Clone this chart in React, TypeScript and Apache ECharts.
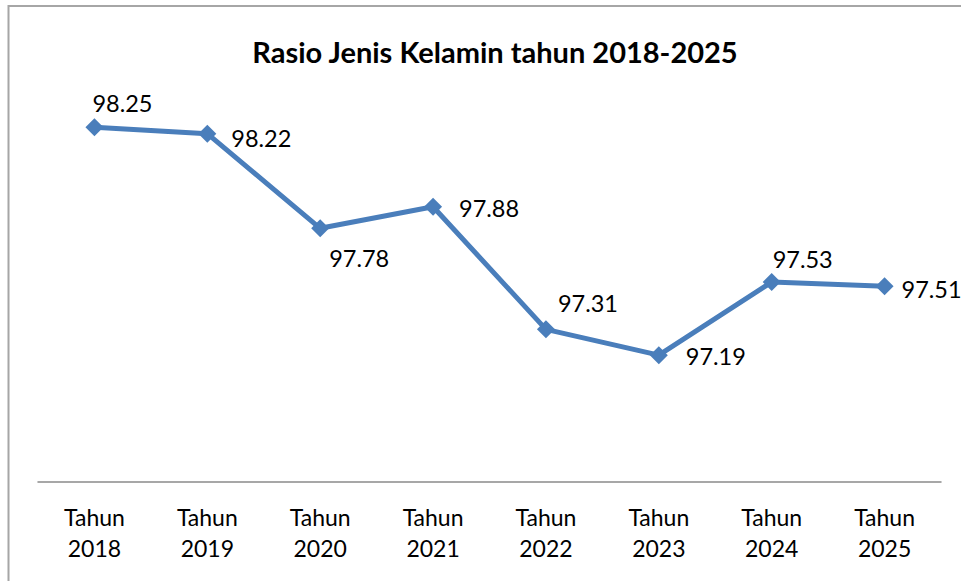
import React, { useEffect, useRef } from "react";
import * as echarts from "echarts";

const categories = [
  "Tahun\n2018",
  "Tahun\n2019",
  "Tahun\n2020",
  "Tahun\n2021",
  "Tahun\n2022",
  "Tahun\n2023",
  "Tahun\n2024",
  "Tahun\n2025",
];
const ratioValues = [98.25, 98.22, 97.78, 97.88, 97.31, 97.19, 97.53, 97.51];
const titleText = "Rasio Jenis Kelamin tahun 2018-2025";

// label placement (style only): offset of label centre from marker centre
const labelOffsets: [number, number][] = [
  [28, -24],
  [54, 4],
  [39, 30],
  [56, 1],
  [42, -26],
  [57, 1],
  [31, -23],
  [47, 3],
];

export default function App() {
  const ref = useRef<HTMLDivElement>(null);
  useEffect(() => {
    if (!ref.current) return;
    const chart = echarts.init(ref.current, undefined, { renderer: "svg" });
    chart.setOption({
      animation: false,
      backgroundColor: "#ffffff",
      title: {
        text: titleText,
        left: 490,
        top: 32,
        textAlign: "center",
        textStyle: {
          fontFamily: "Lato",
          fontWeight: "bold",
          fontSize: 29,
          color: "#000000",
        },
      },
      graphic: [
        {
          type: "rect",
          shape: { x: 8.5, y: 6, width: 1200, height: 1200 },
          style: { fill: "none", stroke: "#a6a6a6", lineWidth: 2 },
          silent: true,
          z: -1,
        },
      ],
      grid: { left: 38, right: 20, top: 95, bottom: 99, containLabel: false },
      xAxis: {
        type: "category",
        data: categories,
        boundaryGap: true,
        axisLine: { show: true, lineStyle: { color: "#8a8a8a", width: 1.5 } },
        axisTick: { show: false },
        splitLine: { show: false },
        axisLabel: {
          fontFamily: "Lato",
          fontSize: 23,
          color: "#000000",
          lineHeight: 31,
          margin: 19,
          interval: 0,
        },
      },
      yAxis: {
        type: "value",
        min: 96.6,
        max: 98.4,
        show: false,
        splitLine: { show: false },
      },
      series: [
        {
          type: "line",
          data: ratioValues.map((v, i) => ({
            value: v,
            label: { offset: labelOffsets[i] },
          })),
          color: "#4A7EBB",
          lineStyle: { width: 5, color: "#4A7EBB" },
          symbol: "diamond",
          symbolSize: 18,
          itemStyle: { color: "#4A7EBB" },
          label: {
            show: true,
            position: "inside",
            align: "center",
            verticalAlign: "middle",
            fontFamily: "Lato",
            fontSize: 23.5,
            color: "#000000",
            formatter: (p: any) => Number(p.value).toFixed(2),
          },
        },
      ],
    });
    return () => chart.dispose();
  }, []);
  return (
    <div
      ref={ref}
      style={{ position: "absolute", left: 0, top: 0, width: 961, height: 581 }}
    />
  );
}
